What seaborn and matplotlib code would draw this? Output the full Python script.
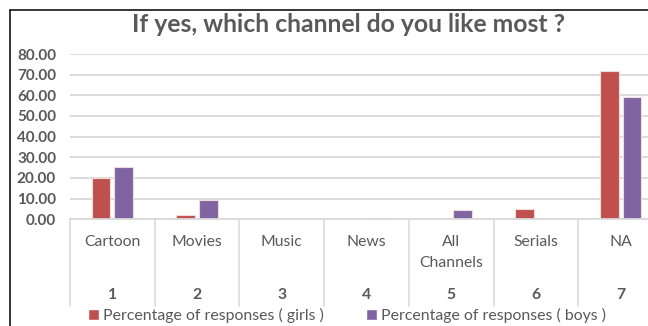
import matplotlib
matplotlib.use("Agg")
import matplotlib.pyplot as plt
from matplotlib.lines import Line2D
from matplotlib.patches import Patch
import seaborn as sns
import pandas as pd

# Survey answers: favourite TV channel, split by girls and boys
channels = ["Cartoon", "Movies", "Music", "News", "All\nChannels", "Serials", "NA"]
codes = ["1", "2", "3", "4", "5", "6", "7"]
girls = [20.1, 2.2, 0.0, 0.0, 0.0, 4.8, 71.9]
boys = [25.2, 9.2, 0.0, 0.8, 4.4, 0.0, 59.2]
series_names = ["Percentage of responses ( girls )", "Percentage of responses ( boys )"]
y_ticks = [0, 10, 20, 30, 40, 50, 60, 70, 80]
title = "If yes, which channel do you like most ?"

RED = "#C0504D"
PURPLE = "#8064A2"
TEXT = "#595959"
GRID = "#D9D9D9"

sns.set_theme(style="white")
plt.rcParams["font.family"] = ["Lato", "DejaVu Sans"]

df = pd.DataFrame({
    "channel": channels * 2,
    "pct": girls + boys,
    "series": [series_names[0]] * len(channels) + [series_names[1]] * len(channels),
})

W, H = 648, 326
fig = plt.figure(figsize=(W / 100, H / 100), dpi=100)
fig.patch.set_facecolor("white")

# plot area in pixels: x 70..663 (runs past the right edge), y 54..219
left, right, top, bottom = 70, 663, 54, 219.3
ax = fig.add_axes([left / W, 1 - bottom / H, (right - left) / W, (bottom - top) / H])

sns.barplot(data=df, x="channel", y="pct", hue="series", order=channels,
            hue_order=series_names, palette=[RED, PURPLE], width=0.536, gap=0.187,
            ax=ax, legend=False, linewidth=0.8, edgecolor="#F2DCDB", saturation=1)
for p in ax.patches:
    if p.get_height() == 0:
        p.set_visible(False)

ax.set_xlim(-0.5, 6.5)
ax.set_ylim(0, 80)
ax.set_yticks(y_ticks)
ax.set_yticklabels([f"{v:.2f}" for v in y_ticks], fontsize=11, fontweight="bold", color=TEXT)
ax.tick_params(axis="y", length=0, pad=10)
ax.yaxis.grid(True, color=GRID, linewidth=1.3)
ax.set_axisbelow(True)
ax.set_xlabel("")
ax.set_ylabel("")
ax.set_xticks([])
for s in ["top", "right", "left"]:
    ax.spines[s].set_visible(False)
ax.spines["bottom"].set_color(GRID)
ax.spines["bottom"].set_linewidth(1.3)

# category cells below the axis
h = bottom - top
trans = ax.get_xaxis_transform()
for i in range(len(channels) + 1):
    ax.plot([i - 0.5, i - 0.5], [0, -(305.7 - bottom) / h], transform=trans,
            color=GRID, linewidth=1.1, clip_on=False)
for i, (name, code) in enumerate(zip(channels, codes)):
    for j, line in enumerate(name.split("\n")):
        ypix = 241.7 + 21.6 * j
        ax.text(i, -(ypix - bottom) / h, line, transform=trans, ha="center", va="center",
                fontsize=11.3, color=TEXT)
    ax.text(i, -(295 - bottom) / h, code, transform=trans, ha="center", va="center",
            fontsize=11.3, fontweight="bold", color=TEXT)

fig.text(349 / W, 1 - 24 / H, title, ha="center", va="center", fontsize=17.8,
         fontweight="bold", color=TEXT)

handles = [Patch(facecolor=RED), Patch(facecolor=PURPLE)]
fig.legend(handles, series_names, loc="center", bbox_to_anchor=(347 / W, 1 - 315.5 / H),
           ncol=2, frameon=False, fontsize=11.4, handlelength=0.7, handleheight=0.7,
           handletextpad=0.3, columnspacing=2.6, labelcolor=TEXT, borderpad=0)

# chart-area border along the top and left
fig.add_artist(Line2D([10.3 / W, 10.3 / W], [0, 1 - 10.3 / H], color="black", linewidth=1.1))
fig.add_artist(Line2D([10.3 / W, 1], [1 - 10.3 / H, 1 - 10.3 / H], color="black", linewidth=1.1))

fig.savefig("out.png", dpi=100, facecolor="white")
